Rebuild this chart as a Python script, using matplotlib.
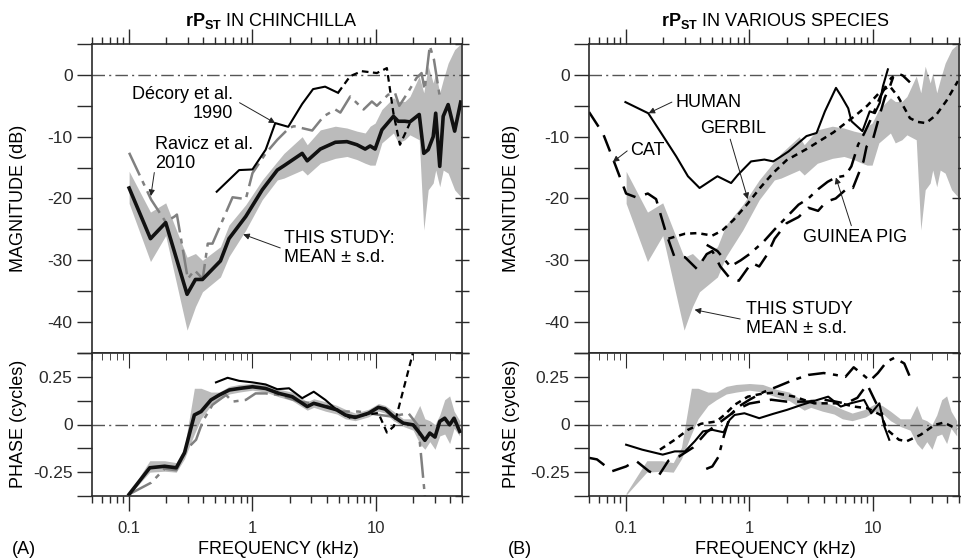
import matplotlib
matplotlib.use('Agg')
import matplotlib.pyplot as plt
from matplotlib.ticker import FixedLocator, FixedFormatter, LogLocator, NullFormatter

plt.rcParams['font.family'] = ['Liberation Sans', 'DejaVu Sans']
plt.rcParams['mathtext.fontset'] = 'custom'
plt.rcParams['mathtext.rm'] = 'Liberation Sans'
plt.rcParams['mathtext.bf'] = 'Liberation Sans:bold'
plt.rcParams['axes.unicode_minus'] = False

W, H = 961, 558

# ---- this study: mean +/- s.d. (chinchilla) ----
mean_f = [0.1, 0.149, 0.198, 0.295, 0.345, 0.393, 0.55, 0.645, 0.883, 1.2, 1.59, 1.8, 2.53,
          2.78, 3.55, 4.7, 5.84, 7.03, 8.2, 9.0, 9.87, 11.2, 13.9, 15.2, 17.2, 18.9, 22.5,
          24.5, 26.6, 29.2, 30.6, 33.0, 35.2, 38.6, 43.6, 48.8]
mean_db = [-18.3, -26.5, -23.9, -35.5, -33.1, -33.1, -30.1, -26.5, -22.9, -18.6, -15.4, -14.7,
           -12.7, -13.9, -12.0, -10.9, -10.8, -11.3, -12.0, -11.5, -12.0, -8.9, -6.7, -7.5,
           -7.5, -7.6, -6.4, -12.7, -12.1, -10.0, -6.2, -14.8, -6.7, -4.8, -9.1, -4.4]
sd_hi = [-15.6, -22.2, -20.7, -29.5, -28.9, -30.0, -27.8, -24.3, -21.0, -17.0, -14.0, -12.7,
         -10.0, -11.3, -8.9, -8.3, -8.6, -9.1, -9.4, -8.3, -7.8, -5.6, -3.7, -4.3, -4.3, -3.5,
         -0.2, -2.9, 1.4, -1.3, 0.3, -2.9, -0.8, 1.9, 4.1, 5.0]
sd_lo = [-20.8, -30.2, -26.0, -41.3, -37.5, -35.1, -32.7, -29.4, -25.1, -20.2, -17.0, -16.7,
         -15.4, -16.2, -14.3, -13.5, -13.2, -13.7, -14.3, -14.6, -14.6, -11.0, -9.4, -11.0,
         -10.5, -9.7, -10.5, -25.1, -18.6, -17.5, -15.4, -18.1, -15.4, -15.9, -18.6, -19.7]

ph_f = [0.1, 0.147, 0.194, 0.241, 0.281, 0.338, 0.383, 0.461, 0.539, 0.649, 0.78, 1.0, 1.28,
        1.64, 2.1, 2.78, 3.14, 3.9, 4.84, 5.66, 6.8, 8.73, 10.5, 11.9, 13.9, 16.7, 20.1,
        22.7, 25.0, 27.4, 30.2, 33.0, 36.2, 39.7, 43.1, 47.9]
ph_mean = [-0.366, -0.227, -0.219, -0.227, -0.149, 0.050, 0.068, 0.129, 0.155, 0.181, 0.189,
           0.198, 0.189, 0.163, 0.146, 0.094, 0.111, 0.094, 0.077, 0.050, 0.037, 0.059, 0.090,
           0.081, 0.042, 0.007, -0.002, -0.045, -0.083, -0.045, -0.066, 0.016, 0.033, -0.002,
           0.033, -0.036]
ph_hi = [-0.36, -0.19, -0.19, -0.20, -0.12, 0.19, 0.19, 0.17, 0.17, 0.20, 0.21, 0.215, 0.21,
         0.185, 0.17, 0.12, 0.135, 0.12, 0.10, 0.08, 0.06, 0.08, 0.11, 0.10, 0.07, 0.03, 0.03,
         0.10, 0.03, 0.02, 0.0, 0.05, 0.13, 0.15, 0.07, 0.02]
ph_lo = [-0.37, -0.25, -0.245, -0.25, -0.18, -0.05, 0.03, 0.10, 0.13, 0.16, 0.17, 0.18, 0.17,
         0.145, 0.125, 0.075, 0.09, 0.07, 0.055, 0.03, 0.02, 0.04, 0.07, 0.06, 0.02, -0.01,
         -0.03, -0.10, -0.13, -0.09, -0.13, -0.06, -0.05, -0.10, -0.02, -0.06]

# ---- Ravicz et al. 2010 ----
rav_f = [0.1, 0.151, 0.198, 0.234, 0.244, 0.299, 0.339, 0.395, 0.434, 0.474, 0.69, 0.883,
         1.0, 1.28, 1.59, 1.98, 2.17, 3.05, 3.78, 4.7, 5.16, 6.2, 7.96, 9.29, 10.2, 12.6,
         14.3, 15.5, 18.0, 21.4, 23.5, 24.9, 27.4, 29.6, 33.0]
rav_db = [-12.6, -20.2, -23.8, -22.9, -22.6, -33.0, -31.6, -33.0, -27.3, -27.3, -19.8, -20.1,
          -15.9, -12.7, -10.5, -8.6, -8.3, -9.0, -6.7, -5.6, -6.1, -3.5, -5.6, -4.3, -5.0,
          -3.2, -2.9, -5.0, -3.0, -0.5, 0.3, -2.4, 4.7, 2.5, -3.5]
rav_ph_f = [0.1, 0.151, 0.194, 0.241, 0.29, 0.349, 0.395, 0.474, 0.61, 0.69, 0.883, 1.06,
            1.28, 1.64, 2.38, 3.9, 5.0, 7.24, 10.5, 13.4, 18.4, 22.1, 25.0]
rav_ph = [-0.366, -0.305, -0.232, -0.24, -0.132, -0.08, 0.016, 0.103, 0.155, 0.12, 0.129,
          0.163, 0.163, 0.155, 0.12, 0.103, 0.068, 0.068, 0.051, 0.042, 0.059, -0.007, -0.375]

# ---- Decory et al. 1990 (solid part, then dotted part) ----
dec_f = [0.513, 0.78, 1.0, 1.28, 1.53, 1.95, 2.53, 3.1, 3.88, 4.94]
dec_db = [-18.9, -15.4, -15.3, -12.1, -7.8, -8.4, -4.7, -2.3, -1.9, -2.9]
dec2_f = [4.94, 6.2, 7.7, 10.2, 12.3, 13.9, 15.7, 18.9]
dec2_db = [-2.9, -0.2, 0.6, 0.3, 1.1, -6.2, -11.3, -7.8]
dec_ph_f = [0.506, 0.629, 0.78, 1.0, 1.28, 1.59, 1.98, 2.53, 3.14, 3.9, 5.0, 6.1]
dec_ph = [0.221, 0.245, 0.229, 0.221, 0.21, 0.185, 0.19, 0.138, 0.172, 0.129, 0.068, 0.037]
dec2_ph_f = [6.1, 8.0, 10.5, 12.3, 14.0, 20.0, 21.5]
dec2_ph = [0.037, 0.05, 0.06, -0.042, -0.01, 0.375, 0.45]

# ---- other species ----
hum_f = [0.0987, 0.151, 0.188, 0.255, 0.317, 0.394, 0.521, 0.55, 0.71, 0.804, 1.03, 1.32,
         1.56, 1.77, 2.07, 2.9, 3.5, 4.09, 5.03, 5.57, 6.32, 6.72, 8.24, 9.44, 10.4, 11.4,
         12.1, 13.25]
hum_db = [-4.4, -6.2, -9.1, -13.2, -16.4, -18.3, -16.7, -16.4, -17.5, -16.2, -14.0, -13.7,
          -14.0, -13.3, -12.4, -9.9, -9.4, -5.9, -2.1, -3.5, -5.4, -7.5, -9.1, -5.9, -6.2,
          -4.5, -1.8, 0.9]
hum_ph_f = [0.1, 0.135, 0.198, 0.248, 0.3, 0.36, 0.42, 0.5, 0.617, 0.69, 0.757, 0.91, 1.2,
            1.56, 2.02, 2.65, 3.56, 4.35, 5.5, 6.6, 8.5, 9.7, 11.3, 12.4, 13.6]
hum_ph = [-0.106, -0.132, -0.158, -0.141, -0.141, -0.088, -0.036, -0.028, -0.041, 0.024,
          0.05, 0.059, 0.033, 0.056, 0.077, 0.103, 0.129, 0.146, 0.094, 0.111, 0.129, 0.059,
          0.111, -0.01, -0.08]

cat_f = [0.05, 0.065, 0.08, 0.1, 0.12, 0.15, 0.175, 0.21, 0.245, 0.3, 0.375, 0.45, 0.5,
         0.58, 0.7, 0.82, 1.04, 1.2, 1.4, 1.6, 2.0, 2.5, 3.0, 3.6, 4.2, 5.0, 6.5, 6.9, 8.4,
         8.9, 10.1, 11.4, 12.5, 13.8, 14.6]
cat_db = [-6.0, -9.5, -14.1, -19.2, -19.8, -19.2, -20.1, -25.5, -29.3, -29.5, -31.4, -29.0,
          -28.5, -31.0, -33.0, -33.3, -30.4, -31.0, -29.0, -26.5, -24.0, -23.0, -21.5, -22.0,
          -20.5, -20.0, -18.0, -18.3, -14.0, -11.6, -10.2, -6.4, -3.7, -1.8, -0.4]
cat_ph_f = [0.05, 0.058, 0.077, 0.1, 0.12, 0.153, 0.183, 0.22, 0.27, 0.35, 0.45, 0.6, 0.8,
            1.0, 1.5, 2.0, 3.0, 4.0, 5.0, 6.0, 7.5, 9.0, 10.5, 12.0]
cat_ph = [-0.175, -0.183, -0.245, -0.22, -0.19, -0.245, -0.27, -0.19, -0.167, -0.12, -0.04,
          0.02, 0.08, 0.11, 0.13, 0.12, 0.12, 0.13, 0.12, 0.11, 0.14, 0.21, 0.12, 0.05]

grb_f = [0.22, 0.3, 0.38, 0.5, 0.6, 0.74, 0.97, 1.23, 1.55, 2.0, 2.9, 3.5, 4.8, 7.3, 9.0,
         11.4, 13.7, 16.0, 18.2, 20.0, 23.0, 27.0, 32.6, 39.5, 49.0]
grb_db = [-26.5, -25.7, -25.6, -26.0, -25.2, -23.5, -20.8, -18.2, -15.9, -13.8, -12.0, -11.0,
          -9.3, -6.5, -5.0, -2.8, -1.8, -3.5, -5.5, -7.0, -7.6, -7.8, -6.5, -4.2, -1.0]
grb_ph_f = [0.188, 0.248, 0.317, 0.406, 0.54, 0.628, 0.757, 0.97, 1.23, 1.56, 2.31, 3.35,
            5.5, 7.05, 9.06, 11.6, 13.1, 16.3, 18.8, 24.4, 31.7, 37.7, 48.4]
grb_ph = [-0.132, -0.08, -0.028, 0.004, 0.016, 0.051, 0.103, 0.146, 0.16, 0.167, 0.146,
          0.111, 0.111, 0.094, 0.085, 0.05, -0.028, -0.08, -0.088, -0.054, -0.002, 0.01,
          -0.024]

gp_f = [0.45, 0.55, 0.7, 0.85, 1.0, 1.3, 1.6, 2.0, 2.5, 3.0, 3.6, 4.3, 5.0, 6.0, 6.7, 7.1,
        7.6, 8.5, 10.0, 11.5, 13.0, 14.1, 16.0, 17.5, 20.0]
gp_db = [-27.5, -28.5, -31.0, -30.0, -29.0, -27.0, -25.0, -23.0, -21.0, -20.0, -18.5, -17.3,
         -16.6, -16.3, -14.8, -13.2, -11.3, -9.5, -6.5, -3.5, -1.5, -0.5, 0.2, -0.1, -1.2]
gp_ph_f = [0.446, 0.5, 0.56, 0.62, 0.7, 0.8, 1.0, 1.3, 1.7, 2.2, 3.0, 4.0, 5.0, 6.0, 7.0,
           8.0, 9.5, 11.0, 13.0, 15.0, 18.0, 20.0]
gp_ph = [-0.233, -0.22, -0.17, -0.06, 0.05, 0.09, 0.13, 0.17, 0.20, 0.23, 0.26, 0.27, 0.26,
         0.25, 0.30, 0.27, 0.23, 0.27, 0.33, 0.35, 0.32, 0.25]

# ---------------- layout ----------------
fig = plt.figure(figsize=(W / 100, H / 100), dpi=100)
fig.patch.set_facecolor('white')

def px(x, y):
    return x / W, 1 - y / H

L_X = [92, 589]
AX_W = 370
MAG_TOP, MAG_BOT, PH_BOT = 44, 353, 496

BAND = '#bbbbbb'
ZERO = dict(color='#555555', lw=1.0, dashes=(9, 3, 1.5, 3))
SPINE = '#2a2a2a'
FS = 13

def base_axes(x0, top, bot):
    ax = fig.add_axes([x0 / W, 1 - bot / H, AX_W / W, (bot - top) / H])
    ax.set_xscale('log')
    ax.set_xlim(0.05, 50)
    for s in ax.spines.values():
        s.set_color(SPINE)
        s.set_linewidth(1.2)
    ax.xaxis.set_major_locator(FixedLocator([0.1, 1, 10]))
    ax.xaxis.set_minor_locator(LogLocator(base=10, subs=range(2, 10)))
    ax.xaxis.set_minor_formatter(NullFormatter())
    ax.tick_params(axis='both', which='both', colors=SPINE, width=1.0, labelsize=12.5)
    return ax

def right_ticks(ax, locs):
    sec = ax.secondary_yaxis('right')
    sec.set_yticks(locs)
    sec.set_yticklabels([])
    sec.tick_params(direction='inout', length=10, width=1.0, colors=SPINE)
    sec.spines['right'].set_visible(False)

def mag_axes(x0):
    ax = base_axes(x0, MAG_TOP, MAG_BOT)
    ax.set_ylim(-45, 5)
    ax.tick_params(axis='x', which='both', bottom=False, top=True, direction='out',
                   labelbottom=False, labeltop=False)
    ax.tick_params(axis='x', which='major', length=11)
    ax.tick_params(axis='x', which='minor', length=5)
    ax.set_yticks(range(-45, 6, 5))
    ax.set_yticklabels(['' if v % 10 else str(v) for v in range(-45, 6, 5)])
    ax.tick_params(axis='y', direction='out', length=11, right=False, pad=3)
    right_ticks(ax, range(-45, 6, 5))
    ax.axhline(0, **ZERO)
    return ax

def phase_axes(x0):
    ax = base_axes(x0, MAG_BOT, PH_BOT)
    ax.set_ylim(-0.375, 0.375)
    ax.tick_params(axis='x', which='both', bottom=True, top=False, direction='out')
    ax.tick_params(axis='x', which='major', length=11, pad=7, labelsize=12)
    ax.tick_params(axis='x', which='minor', length=5)
    ax.xaxis.set_major_formatter(FixedFormatter(['0.1', '1', '10']))
    top = ax.secondary_xaxis('top')
    top.xaxis.set_major_locator(FixedLocator([0.1, 1, 10]))
    top.xaxis.set_minor_locator(LogLocator(base=10, subs=range(2, 10)))
    top.xaxis.set_minor_formatter(NullFormatter())
    top.tick_params(axis='x', which='both', direction='in', labeltop=False, colors=SPINE)
    top.tick_params(axis='x', which='major', length=11)
    top.tick_params(axis='x', which='minor', length=5)
    top.spines['top'].set_visible(False)
    ylocs = [-0.375, -0.25, -0.125, 0, 0.125, 0.25, 0.375]
    ax.set_yticks(ylocs)
    ax.set_yticklabels(['', '-0.25', '', '0', '', '0.25', ''])
    ax.tick_params(axis='y', direction='out', length=11, right=False, pad=3)
    right_ticks(ax, ylocs)
    ax.axhline(0, **ZERO)
    return ax

axA = mag_axes(L_X[0])
axAp = phase_axes(L_X[0])
axB = mag_axes(L_X[1])
axBp = phase_axes(L_X[1])

# ---------------- panel A ----------------
axA.fill_between(mean_f, sd_lo, sd_hi, color=BAND, lw=0)
axA.plot(rav_f, rav_db, color='#808080', lw=1.8, dashes=(10, 2.5, 2, 2.5))
axA.plot(dec_f, dec_db, color='black', lw=1.5)
axA.plot(dec2_f, dec2_db, color='black', lw=1.6, dashes=(3, 2))
axA.plot(mean_f, mean_db, color='#111111', lw=2.6)

axAp.fill_between(ph_f, ph_lo, ph_hi, color=BAND, lw=0)
axAp.plot(rav_ph_f, rav_ph, color='#808080', lw=1.8, dashes=(10, 2.5, 2, 2.5))
axAp.plot(dec_ph_f, dec_ph, color='black', lw=1.5)
axAp.plot(dec2_ph_f, dec2_ph, color='black', lw=1.6, dashes=(3, 2), clip_on=True)
axAp.plot(ph_f, ph_mean, color='#111111', lw=2.6)

# ---------------- panel B ----------------
axB.fill_between(mean_f, sd_lo, sd_hi, color=BAND, lw=0)
axB.plot(hum_f, hum_db, color='black', lw=1.5)
axB.plot(cat_f, cat_db, color='black', lw=1.8, dashes=(7, 4))
axB.plot(grb_f, grb_db, color='black', lw=1.8, dashes=(2.5, 2))
axB.plot(gp_f, gp_db, color='black', lw=1.8, dashes=(7, 3, 2, 3))

axBp.fill_between(ph_f, ph_lo, ph_hi, color=BAND, lw=0)
axBp.plot(hum_ph_f, hum_ph, color='black', lw=1.5)
axBp.plot(cat_ph_f, cat_ph, color='black', lw=1.8, dashes=(7, 4))
axBp.plot(grb_ph_f, grb_ph, color='black', lw=1.8, dashes=(2.5, 2))
axBp.plot(gp_ph_f, gp_ph, color='black', lw=1.8, dashes=(7, 3, 2, 3))

# ---------------- annotations ----------------
ARROW = dict(arrowstyle='-|>', color='#222222', lw=0.7, mutation_scale=9,
             shrinkA=0, shrinkB=0)

def note(ax, text, xy, tip, start, ha='left'):
    ax.text(*xy, text, fontsize=FS, ha=ha, va='center', multialignment=ha,
            linespacing=1.1)
    ax.annotate('', xy=tip, xytext=start, arrowprops=ARROW)

note(axA, 'Décory et al.\n1990', (0.70, -4.7), (1.53, -7.8), (0.786, -4.5), ha='right')
note(axA, 'Ravicz et al.\n2010', (0.162, -12.8), (0.15, -19.6), (0.16, -15.8))
note(axA, 'THIS STUDY:\nMEAN ± s.d.', (1.81, -28.0), (0.841, -25.8), (1.68, -28.0))

note(axB, 'HUMAN', (0.251, -4.4), (0.152, -6.2), (0.235, -4.4))
note(axB, 'CAT', (0.108, -12.3), (0.078, -14.1), (0.102, -12.3))
note(axB, 'GERBIL', (0.399, -8.6), (0.969, -20.1), (0.698, -10.4))
note(axB, 'GUINEA PIG', (2.73, -26.3), (5.02, -16.6), (6.7, -24.4))
note(axB, 'THIS STUDY\nMEAN ± s.d.', (0.933, -39.5), (0.359, -38.0), (0.841, -39.5))

# ---------------- figure text ----------------
fig.text(*px(271, 21), r'$\mathbf{rP_{ST}}$ IN CHINCHILLA', fontsize=FS, ha='center', va='center')
fig.text(*px(775, 21), r'$\mathbf{rP_{ST}}$ IN VARIOUS SPECIES', fontsize=FS, ha='center', va='center')
for xl, xc in [(19, 278), (511, 775)]:
    fig.text(*px(xl, 198), 'MAGNITUDE (dB)', fontsize=FS, rotation=90, ha='center', va='center')
    fig.text(*px(xl, 424), 'PHASE (cycles)', fontsize=FS, rotation=90, ha='center', va='center')
    fig.text(*px(xc, 549), 'FREQUENCY (kHz)', fontsize=FS, ha='center', va='center')
fig.text(*px(12, 549), '(A)', fontsize=FS, ha='left', va='center')
fig.text(*px(508, 549), '(B)', fontsize=FS, ha='left', va='center')

fig.savefig('out.png', dpi=100, facecolor='white')
